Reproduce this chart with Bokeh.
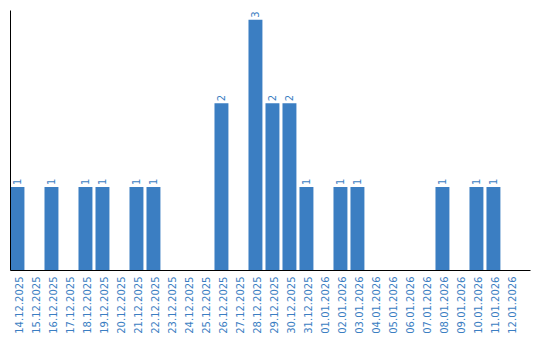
import math
from bokeh.plotting import figure
from bokeh.models import Range1d, FixedTicker, ColumnDataSource
from bokeh.core.properties import value
from bokeh.embed import file_html
from bokeh.resources import INLINE

dates = ["14.12.2025", "15.12.2025", "16.12.2025", "17.12.2025", "18.12.2025",
         "19.12.2025", "20.12.2025", "21.12.2025", "22.12.2025", "23.12.2025",
         "24.12.2025", "25.12.2025", "26.12.2025", "27.12.2025", "28.12.2025",
         "29.12.2025", "30.12.2025", "31.12.2025", "01.01.2026", "02.01.2026",
         "03.01.2026", "04.01.2026", "05.01.2026", "06.01.2026", "07.01.2026",
         "08.01.2026", "09.01.2026", "10.01.2026", "11.01.2026", "12.01.2026"]
counts = [1, 0, 1, 0, 1, 1, 0, 1, 1, 0,
          0, 0, 2, 0, 3, 2, 2, 1, 0, 1,
          1, 0, 0, 0, 0, 1, 0, 1, 1, 0]

BLUE = "#3b7ec2"

xs = list(range(len(dates)))
bar_x = [i - 0.09 for i in xs]
src = ColumnDataSource(dict(x=bar_x, top=counts))
lab_idx = [i for i in xs if counts[i] > 0]
lab_src = ColumnDataSource(dict(x=[bar_x[i] for i in lab_idx],
                                y=[counts[i] for i in lab_idx],
                                t=[str(counts[i]) for i in lab_idx]))

p = figure(frame_width=520, frame_height=260, width=540, height=340,
           output_backend="svg", toolbar_location=None,
           x_range=Range1d(-0.5, 30.09), y_range=Range1d(0, 3.11),
           min_border_left=10, min_border_right=10, min_border_top=10,
           min_border_bottom=0)
p.outline_line_color = None
p.xgrid.visible = False
p.ygrid.visible = False
p.background_fill_color = "white"
p.border_fill_color = "white"

p.vbar(x="x", top="top", bottom=0, width=0.82, source=src,
       fill_color=BLUE, line_color=None)

p.text(x="x", y="y", text="t", source=lab_src, angle=math.pi / 2,
       text_align="left", text_baseline="middle", y_offset=-2,
       text_color=BLUE, text_font=value("DejaVu Sans"), text_font_size="10px")

xa = p.xaxis[0]
xa.ticker = FixedTicker(ticks=xs)
xa.major_label_overrides = {i: d for i, d in enumerate(dates)}
xa.major_label_orientation = math.pi / 2
xa.major_tick_out = 0
xa.major_tick_in = 0
xa.minor_tick_out = 0
xa.minor_tick_in = 0
xa.major_label_standoff = 6
xa.major_label_text_color = BLUE
xa.major_label_text_font = "DejaVu Sans"
xa.major_label_text_font_size = "10px"
xa.axis_line_color = "black"
xa.axis_line_width = 1

ya = p.yaxis[0]
ya.ticker = FixedTicker(ticks=[])
ya.major_tick_out = 0
ya.major_tick_in = 0
ya.minor_tick_out = 0
ya.minor_tick_in = 0
ya.major_label_standoff = 0
ya.axis_line_color = "black"

open("out.html", "w").write(file_html(p, INLINE))
